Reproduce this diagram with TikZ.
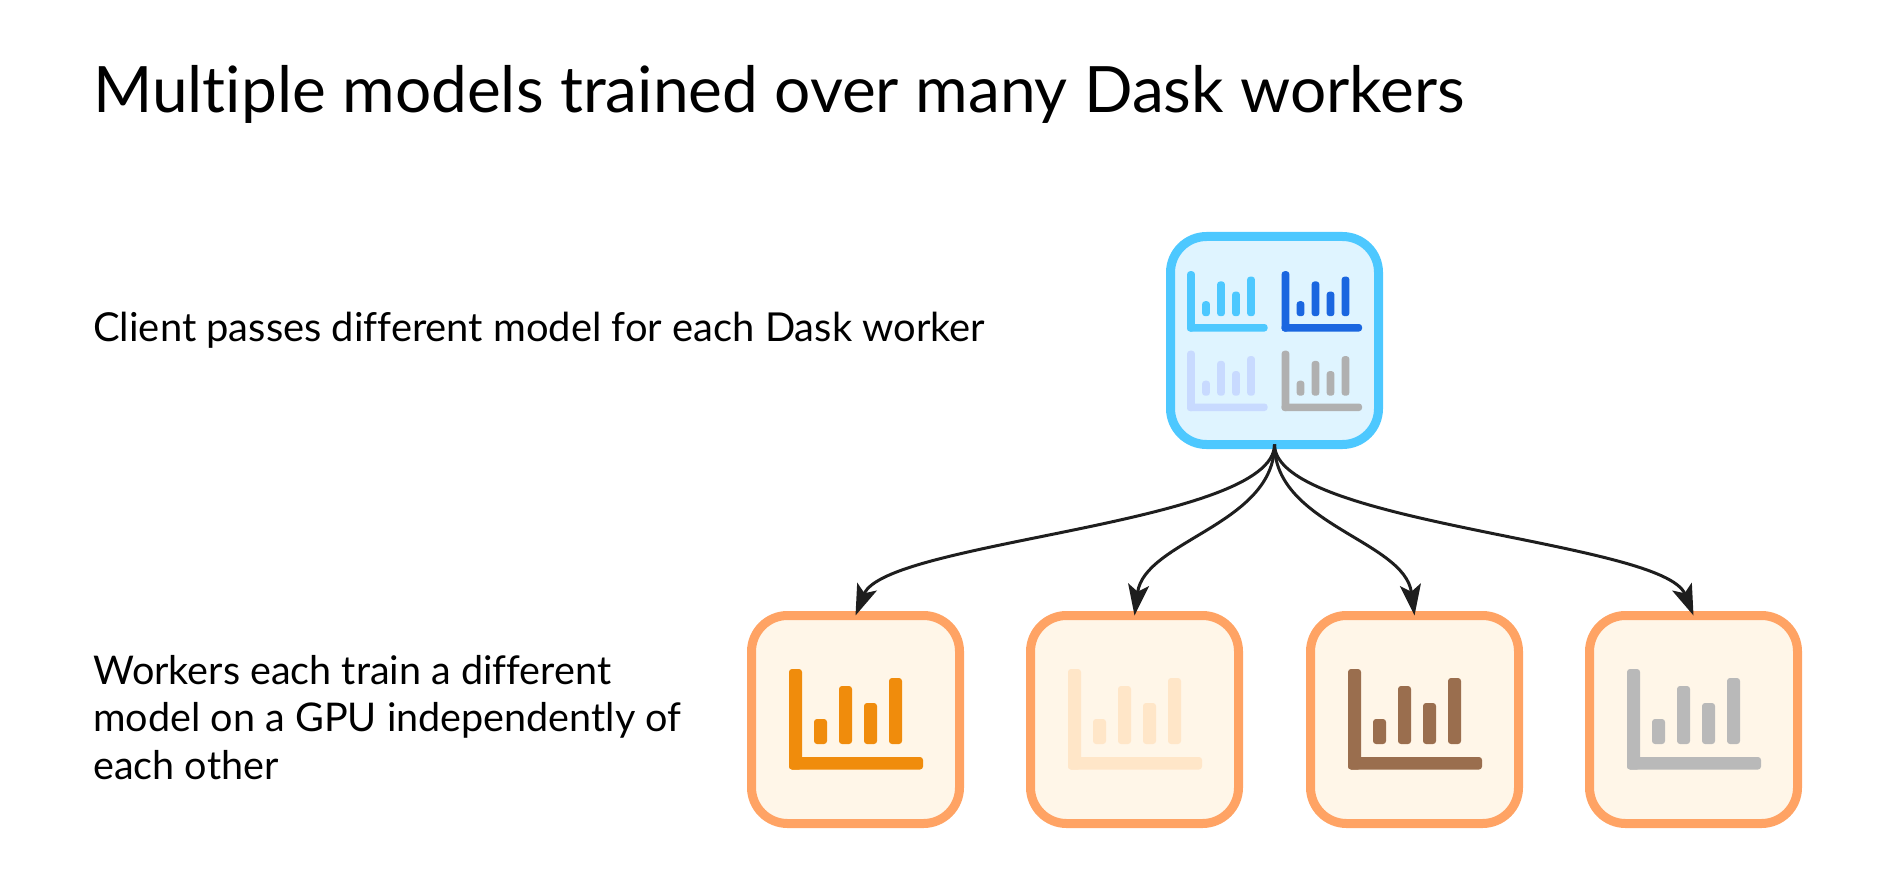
\documentclass[tikz,border=0pt]{standalone}
\usepackage{fontspec}
\setmainfont{Lato}[Ligatures=NoCommon]
\usetikzlibrary{arrows.meta}
\definecolor{clientline}{HTML}{4DC8FF}
\definecolor{clientfill}{HTML}{DFF4FF}
\definecolor{workerline}{HTML}{FFA364}
\definecolor{workerfill}{HTML}{FFF6E8}
\definecolor{chartsky}{HTML}{4DC8FF}
\definecolor{chartblue}{HTML}{1A66E0}
\definecolor{chartpale}{HTML}{C8DAFF}
\definecolor{chartgray}{HTML}{B0B0B0}
\definecolor{chartorange}{HTML}{F08C0C}
\definecolor{chartcream}{HTML}{FFE6C8}
\definecolor{chartbrown}{HTML}{9A6E4E}
\definecolor{chartsilver}{HTML}{B9B9B9}
\definecolor{linkcolor}{HTML}{1E1E1E}
\tikzset{
    modelbox/.style={draw, line width=0.18cm, rounded corners=0.72cm, minimum size=4.16cm, outer sep=0pt, inner sep=0pt},
    clientbox/.style={modelbox, draw=clientline, fill=clientfill},
    workerbox/.style={modelbox, draw=workerline, fill=workerfill},
    link/.style={draw=linkcolor, line width=0.06cm, -{Stealth[length=0.62cm, width=0.42cm, inset=0.14cm]}},
    bodytext/.style={anchor=base west, inner sep=0pt, font=\fontsize{22.5pt}{27.2pt}\selectfont},
    pics/barchart/.style={code={
        \fill[#1, rounded corners=0.06cm] (-1.33,-1.0) rectangle (-1.07,1.01);
        \fill[#1, rounded corners=0.06cm] (-1.33,-1.0) rectangle (1.35,-0.75);
        \foreach \x/\t in {-0.83/0.01, -0.33/0.67, 0.17/0.33, 0.67/0.83} {
            \fill[#1, rounded corners=0.06cm] (\x,-0.49) rectangle (\x+0.26,\t);
        }
    }}
}

\begin{document}
\begin{tikzpicture}
    \useasboundingbox (0,0) rectangle (37.74,17.54);

    \node[anchor=base west, inner sep=0pt, font=\fontsize{36.4pt}{44pt}\selectfont] (title) at (1.86,15.29) {Multiple models trained over many Dask workers};
    \node[bodytext, font=\fontsize{22.7pt}{27.2pt}\selectfont] (clienttext) at (1.86,10.71) {Client passes different model for each Dask worker};
    \node[bodytext, anchor=west, align=left] (workertext) at (1.86,3.19) {Workers each train a different\\model on a GPU independently of\\each other};

    \node[clientbox] (client) at (25.49,10.73) {};
    \foreach \x/\y/\c in {-0.95/0.78/chartsky, 0.94/0.78/chartblue, -0.95/-0.81/chartpale, 0.94/-0.81/chartgray} {
        \pic[shift={(25.49+\x,10.73+\y)}, scale=0.6] {barchart=\c};
    }

    % last control leans towards the client
    \foreach \n/\x/\c/\b in {1/17.11/chartorange/0.6, 2/22.69/chartcream/0.2, 3/28.29/chartbrown/-0.2, 4/33.87/chartsilver/-0.6} {
        \node[workerbox] (w\n) at (\x,3.15) {};
        \pic[shift={(\x,3.15)}] {barchart=\c};
        \draw[link] (client.south) .. controls +(0,-1.6) and +(\b,1.5) .. (w\n.north);
    }
\end{tikzpicture}
\end{document}
